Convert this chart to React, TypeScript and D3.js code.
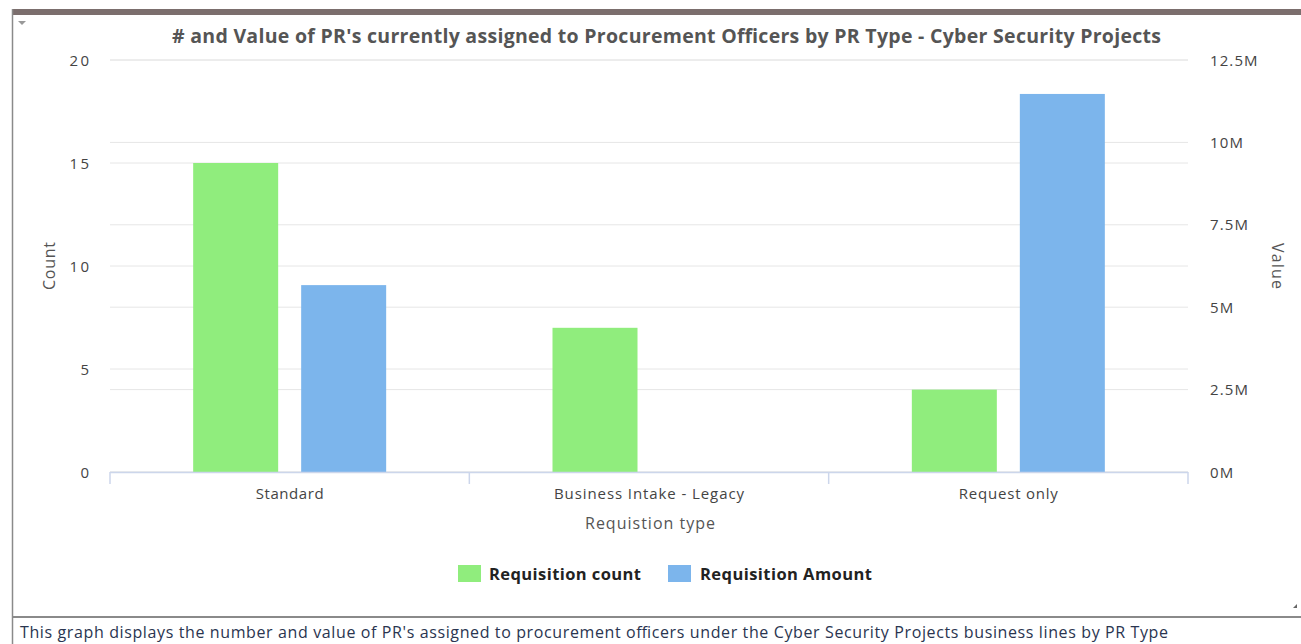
import React from "react";
import * as d3 from "d3";

const categories = ["Standard", "Business Intake - Legacy", "Request only"];
const countValues = [15, 7, 4];
const amountValues = [5670000, 0, 11470000];
const countTicks = [0, 5, 10, 15, 20];
const amountTicks = [0, 2500000, 5000000, 7500000, 10000000, 12500000];
const seriesNames = ["Requisition count", "Requisition Amount"];
const title = "# and Value of PR's currently assigned to Procurement Officers by PR Type - Cyber Security Projects";
const caption = "This graph displays the number and value of PR's assigned to procurement officers under the Cyber Security Projects business lines by PR Type";

const W = 1301, H = 644;
const GREEN = "#90ed7d", BLUE = "#7cb5ec";
const FONT = "'Open Sans', 'DejaVu Sans', sans-serif";
const catWidths = [68, 190, 99];
const tickW = (s: string) =>
  s.split("").reduce((a, ch) => a + (ch === "." ? 5 : ch === "M" ? 13.5 : 9.7), 0);

export default function App() {
  const left = 110, right = 1188, top = 60, bottom = 472;
  const x = d3.scaleBand<string>().domain(categories).range([left, right]);
  const yL = d3.scaleLinear().domain([0, 20]).range([bottom, top]);
  const yR = d3.scaleLinear().domain([0, 12500000]).range([bottom, top]);
  const barW = 85, off = 54;
  const fmtM = (v: number) => `${v / 1e6}M`;
  return (
    <svg width={W} height={H} style={{ position: "absolute", left: 0, top: 0, fontFamily: FONT }}>
      <rect x={0} y={0} width={W} height={H} fill="#fff" />
      {/* frame */}
      <rect x={12} y={9} width={W - 12} height={6} fill="#7b6e6d" />
      <line x1={12.5} x2={12.5} y1={9} y2={H} stroke="#8a8a8a" strokeWidth={1.5} />
      <line x1={12} x2={W} y1={617} y2={617} stroke="#8a8a8a" strokeWidth={2} />
      <path d="M18,21 L26,21 L22,25 Z" fill="#999" />
      <path d="M1297,604 L1297,608 L1293,608 Z" fill="#666" />
      {/* grid */}
      {countTicks.map((t) => (
        <line key={"gl" + t} x1={left} x2={right} y1={yL(t)} y2={yL(t)} stroke="#e6e6e6" strokeWidth={1} />
      ))}
      {amountTicks.map((t) => (
        <line key={"gr" + t} x1={left} x2={right} y1={yR(t)} y2={yR(t)} stroke="#e6e6e6" strokeWidth={1} />
      ))}
      {/* bars */}
      {categories.map((c, i) => {
        const cx = (x(c) as number) + x.bandwidth() / 2;
        return (
          <g key={c}>
            <rect x={cx - off - barW / 2} y={yL(countValues[i])} width={barW} height={bottom - yL(countValues[i])} fill={GREEN} />
            <rect x={cx + off - barW / 2} y={yR(amountValues[i])} width={barW} height={bottom - yR(amountValues[i])} fill={BLUE} />
          </g>
        );
      })}
      {/* x axis */}
      <line x1={left} x2={right} y1={bottom + 0.5} y2={bottom + 0.5} stroke="#ccd6eb" strokeWidth={1.5} />
      {[...categories.map((c) => x(c) as number), right].map((t, i) => (
        <line key={"xt" + i} x1={t} x2={t} y1={bottom} y2={bottom + 12} stroke="#ccd6eb" strokeWidth={1.5} />
      ))}
      {categories.map((c, i) => (
        <text key={"xl" + c} x={(x(c) as number) + x.bandwidth() / 2} y={499} textAnchor="middle" fontSize={15} fill="#444"
          textLength={catWidths[i]} lengthAdjust="spacing">
          {c}
        </text>
      ))}
      <text x={650} y={529} textAnchor="middle" fontSize={16} fill="#555" textLength={130} lengthAdjust="spacing">Requistion type</text>
      {/* left axis labels */}
      {countTicks.map((t) => (
        <text key={"ll" + t} x={89} y={yL(t) + 5.5} textAnchor="end" fontSize={15} fill="#444"
          textLength={tickW(String(t))} lengthAdjust="spacing">{t}</text>
      ))}
      <text transform={`translate(55,${(top + bottom) / 2}) rotate(-90)`} textAnchor="middle" fontSize={16} fill="#555"
        textLength={48} lengthAdjust="spacing">Count</text>
      {/* right axis labels */}
      {amountTicks.map((t) => (
        <text key={"rl" + t} x={1210} y={yR(t) + 5.5} textAnchor="start" fontSize={15} fill="#444"
          textLength={tickW(fmtM(t))} lengthAdjust="spacing">{fmtM(t)}</text>
      ))}
      <text transform={`translate(1272,${(top + bottom) / 2}) rotate(90)`} textAnchor="middle" fontSize={16} fill="#555"
        textLength={46} lengthAdjust="spacing">Value</text>
      {/* title */}
      <text x={666.5} y={43} textAnchor="middle" fontSize={19.5} fontWeight="bold" fill="#555"
        textLength={989} lengthAdjust="spacing">{title}</text>
      {/* legend */}
      <rect x={458} y={565} width={23} height={17} fill={GREEN} />
      <text x={489} y={580} fontSize={16.5} fontWeight="bold" fill="#222" textLength={152} lengthAdjust="spacing">{seriesNames[0]}</text>
      <rect x={668} y={565} width={23} height={17} fill={BLUE} />
      <text x={700} y={580} fontSize={16.5} fontWeight="bold" fill="#222" textLength={172} lengthAdjust="spacing">{seriesNames[1]}</text>
      {/* caption */}
      <text x={20} y={638} fontSize={16} fill="#2a3550" textLength={1148} lengthAdjust="spacing">{caption}</text>
    </svg>
  );
}
